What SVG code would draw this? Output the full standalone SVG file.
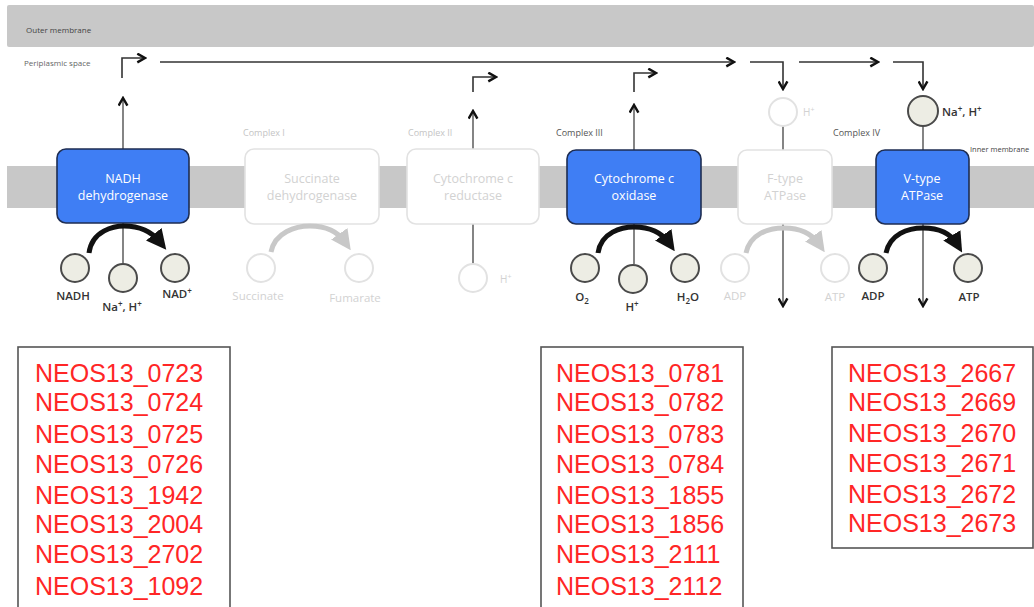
<svg xmlns="http://www.w3.org/2000/svg" width="1034" height="607" viewBox="0 0 1034 607">
<defs>
<style>
.mem{fill:#c8c8c8}
.tiny{font-family:"Open Sans",sans-serif;font-size:8px;fill:#444}
.cx{font-family:"Open Sans",sans-serif;font-size:9px}
.cxd{fill:#555}
.cxf{fill:#c4c4c4}
.box{fill:#3f7ef4;stroke:#1e2d52;stroke-width:1.6}
.fbox{fill:#fff;stroke:#e2e2e2;stroke-width:1.6}
.btxt{font-family:"Open Sans",sans-serif;font-size:12.5px;fill:#fff;text-anchor:middle}
.ftxt{font-family:"Open Sans",sans-serif;font-size:12.5px;fill:#d2d2d2;text-anchor:middle}
.met{fill:#edede4;stroke:#4a4a4a;stroke-width:2}
.fmet{fill:#fff;stroke:#e2e2e2;stroke-width:2}
.lbl{font-family:"Open Sans",sans-serif;font-size:11.5px;font-weight:600;fill:#333;text-anchor:middle}
.flbl{font-family:"Open Sans",sans-serif;font-size:11.5px;fill:#d2d2d2;text-anchor:middle}
.ln{fill:none;stroke:#333;stroke-width:1.6}
.gln{fill:none;stroke:#666;stroke-width:1.6}
.curve{fill:none;stroke:#111;stroke-width:5}
.fcurve{fill:none;stroke:#c8c8c8;stroke-width:5}
.gbox{fill:#fff;stroke:#555;stroke-width:1.6}
.gene{font-family:"Liberation Sans",Arial,sans-serif;font-size:25px;fill:#ff2626}
</style>
<marker id="ah" viewBox="0 0 10 10" refX="8.5" refY="5" markerWidth="11" markerHeight="11" markerUnits="userSpaceOnUse" orient="auto">
<path d="M1.5,1 L8.5,5 L1.5,9" fill="none" stroke="#111" stroke-width="2.2" stroke-linejoin="miter"/>
</marker>
<marker id="th" viewBox="0 0 10 10" refX="5" refY="5" markerWidth="4" markerHeight="4" orient="auto">
<path d="M0,0 L10,5 L0,10 Z" fill="#111"/>
</marker>
<marker id="fth" viewBox="0 0 10 10" refX="5" refY="5" markerWidth="4" markerHeight="4" orient="auto">
<path d="M0,0 L10,5 L0,10 Z" fill="#c8c8c8"/>
</marker>
</defs>
<rect width="1034" height="607" fill="#fff"/>

<g id="membranes">
<rect class="mem" x="7" y="5" width="1027" height="42" rx="2"/>
<text class="tiny" x="26" y="33" fill="#333">Outer membrane</text>
<text class="tiny" x="24" y="66" style="fill:#666">Periplasmic space</text>
<rect class="mem" x="7" y="166" width="1027" height="42"/>
<text class="tiny" x="970" y="152" style="font-size:7.5px">Inner membrane</text>
</g>

<g id="connectors">
<path class="ln" d="M122,78 V58 H145" marker-end="url(#ah)"/>
<path class="ln" d="M160,62 H734" marker-end="url(#ah)"/>
<path class="ln" d="M750,62 H783 V89" marker-end="url(#ah)"/>
<path class="ln" d="M799,62 H878" marker-end="url(#ah)"/>
<path class="ln" d="M893,62 H923 V89" marker-end="url(#ah)"/>
<path class="ln" d="M473,92 V77 H496" marker-end="url(#ah)"/>
<path class="ln" d="M634,92 V73 H656" marker-end="url(#ah)"/>
<path class="gln" d="M123,149 V98" marker-end="url(#ah)"/>
<path class="gln" d="M473,149 V111" marker-end="url(#ah)"/>
<path class="gln" d="M634,150 V105" marker-end="url(#ah)"/>
<path class="gln" d="M123,223 V263"/>
<path class="gln" d="M473,224 V264"/>
<path class="gln" d="M634,224 V264"/>
<path class="gln" d="M783,126 V306" marker-end="url(#ah)"/>
<path class="gln" d="M923,126 V306" marker-end="url(#ah)"/>
</g>

<g id="complexI-label"><text class="cx cxf" x="243" y="136">Complex I</text></g>
<g id="complexII-label"><text class="cx cxf" x="408" y="136">Complex II</text></g>
<g id="complexIII-label"><text class="cx cxd" x="556" y="136">Complex III</text></g>
<g id="complexIV-label"><text class="cx cxd" x="833" y="136">Complex IV</text></g>

<g id="nadh">
<rect class="box" x="57" y="149" width="132" height="74" rx="9"/>
<text class="btxt" x="123" y="183">NADH</text>
<text class="btxt" x="123" y="200">dehydrogenase</text>
<path class="curve" d="M89,253 C92,230 115,226 124,226 C140,226 152,232 160,242" marker-end="url(#th)"/>
<circle class="met" cx="75" cy="268" r="14"/>
<circle class="met" cx="123" cy="278" r="14"/>
<circle class="met" cx="175" cy="268" r="14"/>
<text class="lbl" x="73" y="300">NADH</text>
<text class="lbl" x="122" y="311">Na<tspan font-size="8" dy="-4">+</tspan><tspan dy="4">, H</tspan><tspan font-size="8" dy="-4">+</tspan></text>
<text class="lbl" x="177" y="298">NAD<tspan font-size="8" dy="-4">+</tspan></text>
</g>

<g id="succinate">
<rect class="fbox" x="245" y="149" width="134" height="75" rx="9"/>
<text class="ftxt" x="312" y="183">Succinate</text>
<text class="ftxt" x="312" y="200">dehydrogenase</text>
<path class="fcurve" d="M271,252 C275,232 296,226 310,226 C326,226 338,232 345,242" marker-end="url(#fth)"/>
<circle class="fmet" cx="261" cy="268" r="14"/>
<circle class="fmet" cx="359" cy="268" r="14"/>
<text class="flbl" x="258" y="300">Succinate</text>
<text class="flbl" x="355" y="302">Fumarate</text>
</g>

<g id="cytc-reductase">
<rect class="fbox" x="407" y="149" width="132" height="75" rx="9"/>
<text class="ftxt" x="473" y="183">Cytochrome c</text>
<text class="ftxt" x="473" y="200">reductase</text>
<circle class="fmet" cx="473" cy="278" r="14"/>
<text class="flbl" x="500" y="283" style="text-anchor:start;font-size:10px">H<tspan font-size="7" dy="-4">+</tspan></text>
</g>

<g id="cytc-oxidase">
<rect class="box" x="567" y="150" width="134" height="74" rx="9"/>
<text class="btxt" x="634" y="183">Cytochrome c</text>
<text class="btxt" x="634" y="200">oxidase</text>
<path class="curve" d="M598,253 C601,232 622,227 634,227 C650,227 662,233 669,243" marker-end="url(#th)"/>
<circle class="met" cx="585" cy="268" r="14"/>
<circle class="met" cx="633" cy="279" r="14"/>
<circle class="met" cx="685" cy="268" r="14"/>
<text class="lbl" x="582" y="301">O<tspan font-size="8" dy="3">2</tspan></text>
<text class="lbl" x="632" y="311">H<tspan font-size="8" dy="-4">+</tspan></text>
<text class="lbl" x="688" y="301">H<tspan font-size="8" dy="3">2</tspan><tspan dy="-3">O</tspan></text>
</g>

<g id="ftype">
<rect class="fbox" x="738" y="150" width="94" height="74" rx="9"/>
<text class="ftxt" x="785" y="183">F-type</text>
<text class="ftxt" x="785" y="200">ATPase</text>
<path class="fcurve" d="M746,253 C750,234 768,228 784,228 C800,228 812,234 819,244" marker-end="url(#fth)"/>
<circle class="fmet" cx="783" cy="112" r="14"/>
<text class="flbl" x="803" y="116" style="text-anchor:start;font-size:10px">H<tspan font-size="7" dy="-4">+</tspan></text>
<circle class="fmet" cx="735" cy="268" r="14"/>
<circle class="fmet" cx="835" cy="268" r="14"/>
<text class="flbl" x="735" y="300">ADP</text>
<text class="flbl" x="835" y="301">ATP</text>
</g>

<g id="vtype">
<rect class="box" x="876" y="150" width="93" height="74" rx="9"/>
<text class="btxt" x="922" y="183">V-type</text>
<text class="btxt" x="922" y="200">ATPase</text>
<path class="curve" d="M886,253 C890,234 908,228 923,228 C940,228 951,234 957,244" marker-end="url(#th)"/>
<circle class="met" cx="923" cy="111" r="15"/>
<text class="lbl" x="942" y="116" style="text-anchor:start">Na<tspan font-size="8" dy="-4">+</tspan><tspan dy="4">, H</tspan><tspan font-size="8" dy="-4">+</tspan></text>
<circle class="met" cx="873" cy="268" r="14"/>
<circle class="met" cx="968" cy="268" r="14"/>
<text class="lbl" x="873" y="300">ADP</text>
<text class="lbl" x="969" y="301">ATP</text>
</g>

<g id="genes-complexI">
<rect class="gbox" x="18" y="347" width="212" height="280"/>
<text class="gene" x="35" y="382">NEOS13_0723</text>
<text class="gene" x="35" y="411">NEOS13_0724</text>
<text class="gene" x="35" y="443">NEOS13_0725</text>
<text class="gene" x="35" y="473">NEOS13_0726</text>
<text class="gene" x="35" y="504">NEOS13_1942</text>
<text class="gene" x="35" y="533">NEOS13_2004</text>
<text class="gene" x="35" y="563">NEOS13_2702</text>
<text class="gene" x="35" y="595">NEOS13_1092</text>
</g>

<g id="genes-complexIII">
<rect class="gbox" x="541" y="347" width="202" height="280"/>
<text class="gene" x="556" y="382">NEOS13_0781</text>
<text class="gene" x="556" y="411">NEOS13_0782</text>
<text class="gene" x="556" y="443">NEOS13_0783</text>
<text class="gene" x="556" y="473">NEOS13_0784</text>
<text class="gene" x="556" y="504">NEOS13_1855</text>
<text class="gene" x="556" y="533">NEOS13_1856</text>
<text class="gene" x="556" y="563">NEOS13_2111</text>
<text class="gene" x="556" y="595">NEOS13_2112</text>
</g>

<g id="genes-vtype">
<rect class="gbox" x="832" y="347" width="201" height="201"/>
<text class="gene" x="848" y="382">NEOS13_2667</text>
<text class="gene" x="848" y="411">NEOS13_2669</text>
<text class="gene" x="848" y="442">NEOS13_2670</text>
<text class="gene" x="848" y="472">NEOS13_2671</text>
<text class="gene" x="848" y="503">NEOS13_2672</text>
<text class="gene" x="848" y="532">NEOS13_2673</text>
</g>
</svg>
